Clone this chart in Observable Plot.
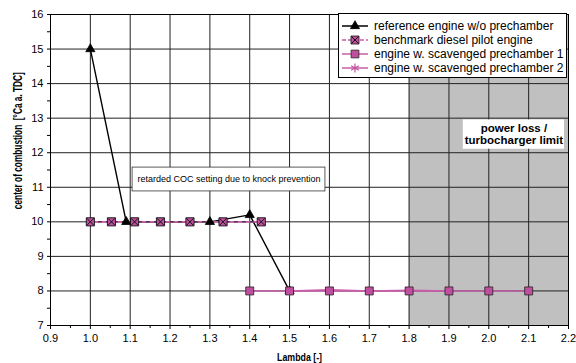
<!DOCTYPE html>
<html><head><meta charset="utf-8">
<script src="https://cdn.jsdelivr.net/npm/d3@7"></script>
<script src="https://cdn.jsdelivr.net/npm/@observablehq/plot@0.6"></script>
<style>
body{margin:0;background:#fff;font-family:"Liberation Sans",Arial,sans-serif;}
#wrap{position:relative;width:576px;height:363px;overflow:hidden;background:#fff}
#legend{position:absolute;left:338px;top:13px;width:229px;height:65px;border:1px solid #000;background:#fff;font-size:12px;color:#000;box-sizing:border-box}
.row{position:absolute;left:2px;height:14px;display:flex;align-items:center;white-space:nowrap}
.row svg{margin-right:5px}
svg text{fill:#000}
</style></head><body><div id="wrap"></div>
<script>
// ---- data ----
const xTicks = [0.9,1.0,1.1,1.2,1.3,1.4,1.5,1.6,1.7,1.8,1.9,2.0,2.1,2.2];
const xMinor = [0.95,1.05,1.15,1.25,1.35,1.45,1.55,1.65,1.75,1.85,1.95,2.05,2.15];
const yTicks = [7,8,9,10,11,12,13,14,15,16];
const yMinor = [7.5,8.5,9.5,10.5,11.5,12.5,13.5,14.5,15.5];

const seriesNames = ["reference engine w/o prechamber","benchmark diesel pilot engine","engine w. scavenged prechamber 1","engine w. scavenged prechamber 2"];

const refLambda = [1.0, 1.09, 1.3, 1.4, 1.5];
const refCOC    = [15, 10, 10, 10.2, 8];

const benchLambda = [1.0, 1.053, 1.111, 1.176, 1.25, 1.333, 1.429];
const benchCOC    = [10, 10, 10, 10, 10, 10, 10];

const pc1Lambda = [1.4, 1.5, 1.6, 1.7, 1.8, 1.9, 2.0, 2.1];
const pc1COC    = [8, 8, 8, 8, 8, 8, 8, 8];

const pc2Lambda = [1.5, 1.6, 1.7, 1.8, 1.9];
const pc2COC    = [8, 8.03, 8.0, 8.02, 8.0];

const shadeZone = [{x1:1.8, x2:2.2, y1:7, y2:16}];
const cocNote = [{x1:1.106, x2:1.59, y1:10.88, y2:11.57, text:"retarded COC setting due to knock prevention"}];
const powerNote = [{x1:1.936, x2:2.19, y1:12.1, y2:12.95, text:"power loss /\nturbocharger limit"}];

const xLabel = "Lambda [-]";
const yLabel = "center of combustion  [°Ca a. TDC]";

// ---- build ----
const zip = (xs, ys) => xs.map((x,i)=>({x, y:ys[i]}));
const ref = zip(refLambda, refCOC);
const bench = zip(benchLambda, benchCOC);
const pc1 = zip(pc1Lambda, pc1COC);
const pc2 = zip(pc2Lambda, pc2COC);

const MAG = "#c0509f";
const LINE = "#c85ea8";

const chart = Plot.plot({
  width: 576, height: 363,
  marginLeft: 50, marginRight: 8, marginTop: 14, marginBottom: 38,
  style: {fontFamily: "'Liberation Sans', Arial, sans-serif", fontSize: "11px", color: "#000", background: "#fff"},
  x: {domain: [0.9, 2.2], label: null},
  y: {domain: [7, 16], label: null},
  marks: [
    Plot.rect(shadeZone, {x1:"x1", x2:"x2", y1:"y1", y2:"y2", fill:"#c0c0c0"}),
    Plot.ruleX(xTicks.slice(1,-1), {stroke:"#222", strokeWidth:1}),
    Plot.ruleY(yTicks.slice(1,-1), {stroke:"#222", strokeWidth:1}),
    Plot.rect(cocNote, {x1:"x1", x2:"x2", y1:"y1", y2:"y2", fill:"#fff", stroke:"#333", strokeWidth:0.8}),
    Plot.text(cocNote, {x: d=>(d.x1+d.x2)/2, y: d=>(d.y1+d.y2)/2, text:"text", fontSize:9}),
    Plot.rect(powerNote, {x1:"x1", x2:"x2", y1:"y1", y2:"y2", fill:"#fff"}),
    Plot.text(powerNote, {x: d=>(d.x1+d.x2)/2, y: d=>(d.y1+d.y2)/2, text:"text", fontSize:11.5, fontWeight:"bold", lineHeight:1.05}),
    // lines
    Plot.line(ref, {x:"x", y:"y", stroke:"#000", strokeWidth:1.4}),
    Plot.line(bench, {x:"x", y:"y", stroke:LINE, strokeWidth:1.6}),
    Plot.line(bench, {x:"x", y:"y", stroke:"#222", strokeWidth:1, strokeDasharray:"3,5"}),
    Plot.line(pc2, {x:"x", y:"y", stroke:LINE, strokeWidth:1.6}),
    Plot.line(pc1, {x:"x", y:"y", stroke:LINE, strokeWidth:1.6}),
    // markers
    Plot.dot(pc2, {x:"x", y:"y", symbol:"asterisk", r:4.2, stroke:MAG, strokeWidth:1.2}),
    Plot.dot(ref, {x:"x", y:"y", symbol:"triangle", r:3.4, fill:"#000", stroke:"#000", strokeWidth:0.8}),
    Plot.dot(pc1, {x:"x", y:"y", symbol:"square", r:4.5, fill:MAG, stroke:"#222", strokeWidth:0.8}),
    Plot.dot(bench, {x:"x", y:"y", symbol:"square", r:4.6, fill:MAG, stroke:"#111", strokeWidth:0.9}),
    Plot.dot(bench, {x:"x", y:"y", symbol:"times", r:3.3, stroke:"#111", strokeWidth:1}),
    // axes
    Plot.axisX({ticks:xTicks, tickFormat:d=>d.toFixed(1), tickSize:4, tickPadding:5, label:null, fontSize:11}),
    Plot.axisX({ticks:xMinor, tickSize:3, tickFormat:()=>"", label:null}),
    Plot.axisY({ticks:yTicks, tickSize:3, tickPadding:4, label:null, fontSize:11}),
    Plot.axisY({ticks:yMinor, tickSize:3, tickFormat:()=>"", label:null}),
    Plot.frame({stroke:"#000", strokeWidth:1}),
    Plot.text([xLabel], {x:1.525, y:7, dy:32, text:d=>d, fontSize:11.5, fontWeight:"bold"}),
    Plot.text([yLabel], {x:0.9, y:12.35, dx:-32, rotate:-90, text:d=>d, fontSize:12, fontWeight:"bold"})
  ]
});

// condense the axis titles to match the narrow face of the original
chart.querySelectorAll("text").forEach(t => {
  if (t.textContent === xLabel) { t.setAttribute("textLength", 45); t.setAttribute("lengthAdjust", "spacingAndGlyphs"); }
  if (t.textContent === yLabel) { t.setAttribute("textLength", 137); t.setAttribute("lengthAdjust", "spacingAndGlyphs"); }
});

const wrap = document.getElementById("wrap");
wrap.appendChild(chart);

// legend
const legend = document.createElement("div");
legend.id = "legend";
const glyphs = [
  {stroke:"#000", dash:null, sym:d3.symbolTriangle, size:36, fill:"#000", symStroke:"#000", cross:false},
  {stroke:LINE, dash:"4,2", sym:d3.symbolSquare, size:64, fill:MAG, symStroke:"#111", cross:true},
  {stroke:LINE, dash:null, sym:d3.symbolSquare, size:60, fill:MAG, symStroke:"#222", cross:false},
  {stroke:LINE, dash:null, sym:d3.symbolAsterisk, size:55, fill:"none", symStroke:MAG, cross:false}
];
const rowTops = [5, 19, 33, 47];
seriesNames.forEach((name, i) => {
  const g = glyphs[i];
  const row = document.createElement("div");
  row.className = "row";
  row.style.top = rowTops[i] + "px";
  const path = d3.symbol(g.sym, g.size)();
  const crossPath = d3.symbol(d3.symbolTimes, 34)();
  row.innerHTML = `<svg width="28" height="14"><line x1="1" x2="27" y1="7" y2="7" stroke="${g.stroke}" stroke-width="1.5" ${g.dash?`stroke-dasharray="${g.dash}"`:""}/>`+
    `<path transform="translate(14,7)" d="${path}" fill="${g.fill}" stroke="${g.symStroke}" stroke-width="${g.sym===d3.symbolAsterisk?1.2:0.8}"/>`+
    (g.cross?`<path transform="translate(14,7)" d="${crossPath}" fill="none" stroke="#111" stroke-width="1"/>`:"")+
    `</svg><span>${name}</span>`;
  legend.appendChild(row);
});
wrap.appendChild(legend);
</script>
</body></html>
